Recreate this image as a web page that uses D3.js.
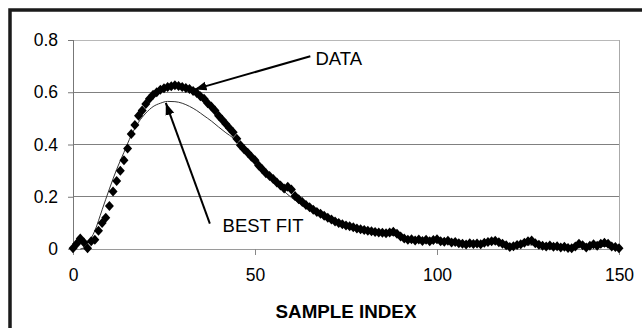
<!DOCTYPE html>
<html>
<head>
<meta charset="utf-8">
<script src="https://cdn.jsdelivr.net/npm/d3@7"></script>
<style>
  body { margin: 0; background: #fff; }
  text { font-family: Arial, "Liberation Sans", sans-serif; fill: #000; }
</style>
</head>
<body>
<svg id="chart" width="642" height="328"></svg>
<script>
// measured data, one value per sample index 0..150
var dataValues = [
  0.003, 0.02, 0.04, 0.025, 0.003, 0.03, 0.035, 0.07, 0.10, 0.12,
  0.165, 0.22, 0.26, 0.30, 0.34, 0.385, 0.44, 0.475, 0.51, 0.53,
  0.555, 0.575, 0.59, 0.60, 0.61, 0.615, 0.62, 0.623, 0.627, 0.624,
  0.62, 0.616, 0.612, 0.605, 0.597, 0.585, 0.575, 0.558, 0.545, 0.53,
  0.51, 0.495, 0.478, 0.462, 0.447, 0.422, 0.397, 0.382, 0.368, 0.353,
  0.34, 0.32, 0.305, 0.29, 0.279, 0.268, 0.255, 0.243, 0.232, 0.238,
  0.228, 0.203, 0.19, 0.18, 0.168, 0.16, 0.15, 0.142, 0.135, 0.127,
  0.12, 0.113, 0.105, 0.10, 0.095, 0.09, 0.087, 0.083, 0.078, 0.076,
  0.073, 0.07, 0.068, 0.065, 0.063, 0.062, 0.06, 0.063, 0.066, 0.058,
  0.048, 0.04, 0.035, 0.037, 0.033, 0.036, 0.031, 0.035, 0.03, 0.034,
  0.037, 0.03, 0.028, 0.032, 0.025, 0.027, 0.022, 0.02, 0.017, 0.022,
  0.019, 0.021, 0.018, 0.024, 0.027, 0.03, 0.032, 0.026, 0.02, 0.014,
  0.008, 0.011, 0.015, 0.018, 0.024, 0.03, 0.033, 0.022, 0.016, 0.012,
  0.01, 0.013, 0.009, 0.011, 0.006, 0.009, 0.004, 0.003, 0.01, 0.02,
  0.014, 0.006, 0.012, 0.018, 0.012, 0.02, 0.024, 0.02, 0.01, 0.008,
  0.003
];

// best fit curve (read at selected sample indices)
var fitIndex = [2, 3, 4, 6, 8, 10, 12, 14, 16, 18, 20, 22, 24, 26, 28, 30, 32, 34, 36, 38,
  40, 42, 44, 46, 48, 50, 55, 60, 65, 70, 75, 80, 85, 90, 95, 100, 110, 120, 130, 140, 150];
var fitValues = [0, 0.005, 0.02, 0.07, 0.15, 0.23, 0.305, 0.37, 0.435, 0.485, 0.52, 0.545, 0.558, 0.565, 0.564, 0.558, 0.546, 0.53, 0.51, 0.49,
  0.467, 0.445, 0.425, 0.4, 0.372, 0.345, 0.262, 0.197, 0.152, 0.117, 0.092, 0.073, 0.059, 0.048, 0.04, 0.033, 0.024, 0.018, 0.014, 0.011, 0.009];

var xTicks = [0, 50, 100, 150];
var yTicks = [0, 0.2, 0.4, 0.6, 0.8];
var xTitle = "SAMPLE INDEX";

// annotations: label, text position, arrow start, arrow tip (data units)
var notes = [
  {label: "DATA", tx: 66.6, ty: 0.703, x1: 65.2, y1: 0.738, x2: 33.4, y2: 0.611},
  {label: "BEST FIT", tx: 41.1, ty: 0.065, x1: 37.6, y1: 0.097, x2: 25.5, y2: 0.559}
];

var marge = {top: 40, left: 73, right: 23, bottom: 79};
var svg = d3.select("#chart");
var width = 642 - marge.left - marge.right;
var height = 328 - marge.top - marge.bottom;

// outer frame
svg.append("rect")
  .attr("x", 10).attr("y", 10)
  .attr("width", 660).attr("height", 340)
  .attr("fill", "none")
  .attr("stroke", "#1a1a1a")
  .attr("stroke-width", 3.5);

var g = svg.append("g").attr("transform", "translate(" + marge.left + "," + marge.top + ")");

var x = d3.scaleLinear().domain([0, 150]).range([0, width]);
var y = d3.scaleLinear().domain([0, 0.8]).range([height, 0]);

// gridlines
g.append("g").selectAll("line")
  .data(yTicks.filter(function(d) { return d > 0; }))
  .enter().append("line")
  .attr("x1", 0).attr("x2", width)
  .attr("y1", function(d) { return y(d); })
  .attr("y2", function(d) { return y(d); })
  .attr("stroke", function(d) { return d == 0.8 ? "#b8b8b8" : "#808080"; })
  .attr("stroke-width", 1)
  .attr("shape-rendering", "crispEdges");

// right border of plot area
g.append("line")
  .attr("x1", width).attr("x2", width)
  .attr("y1", 0).attr("y2", height)
  .attr("stroke", "#aaaaaa")
  .attr("shape-rendering", "crispEdges");

// axes
var yAxis = g.append("g")
  .call(d3.axisLeft(y).tickValues(yTicks).tickSize(5).tickPadding(10)
    .tickFormat(function(d) { return d === 0 ? "0" : d3.format(".1f")(d); }));
var xAxis = g.append("g")
  .attr("transform", "translate(0," + height + ")")
  .call(d3.axisBottom(x).tickValues(xTicks).tickSize(6).tickPadding(14));

yAxis.select(".domain").attr("stroke", "#777").attr("d", "M0.5,0V" + (height + 6));
xAxis.select(".domain").attr("stroke", "#9a9a9a").attr("d", "M-5,0.5H" + width);
yAxis.selectAll(".tick line").attr("stroke", "#777");
xAxis.selectAll(".tick line").attr("stroke", "#888");
g.selectAll(".tick text")
  .style("font-family", "Arial, 'Liberation Sans', sans-serif")
  .style("font-size", "17.5px")
  .attr("fill", "#000");

g.append("text")
  .attr("x", width / 2)
  .attr("y", height + 69)
  .attr("text-anchor", "middle")
  .style("font-size", "18.8px")
  .style("font-weight", "bold")
  .text(xTitle);

// best fit line
var fitPts = fitIndex.map(function(d, i) { return [d, fitValues[i]]; });
g.append("path")
  .datum(fitPts)
  .attr("fill", "none")
  .attr("stroke", "#333")
  .attr("stroke-width", 1)
  .attr("d", d3.line()
    .x(function(d) { return x(d[0]); })
    .y(function(d) { return y(d[1]); })
    .curve(d3.curveMonotoneX));

// data diamonds
g.append("g").selectAll("path")
  .data(dataValues)
  .enter().append("path")
  .attr("d", "M0,-5L4.5,0L0,5L-4.5,0Z")
  .attr("transform", function(d, i) { return "translate(" + x(i) + "," + y(d) + ")"; })
  .attr("fill", "#000");

// arrows
var defs = svg.append("defs");
defs.append("marker")
  .attr("id", "arrow")
  .attr("markerUnits", "userSpaceOnUse")
  .attr("viewBox", "0 -5 12 10")
  .attr("refX", 12).attr("refY", 0)
  .attr("markerWidth", 12).attr("markerHeight", 10)
  .attr("orient", "auto")
  .append("path")
  .attr("d", "M0,-4.5L12,0L0,4.5Z")
  .attr("fill", "#000");

var ann = g.append("g").selectAll("g").data(notes).enter().append("g");
ann.append("line")
  .attr("x1", function(d) { return x(d.x1); })
  .attr("y1", function(d) { return y(d.y1); })
  .attr("x2", function(d) { return x(d.x2); })
  .attr("y2", function(d) { return y(d.y2); })
  .attr("stroke", "#000")
  .attr("stroke-width", 2)
  .attr("marker-end", "url(#arrow)");
ann.append("text")
  .attr("x", function(d) { return x(d.tx); })
  .attr("y", function(d) { return y(d.ty); })
  .style("font-size", "18.5px")
  .text(function(d) { return d.label; });
</script>
</body>
</html>
